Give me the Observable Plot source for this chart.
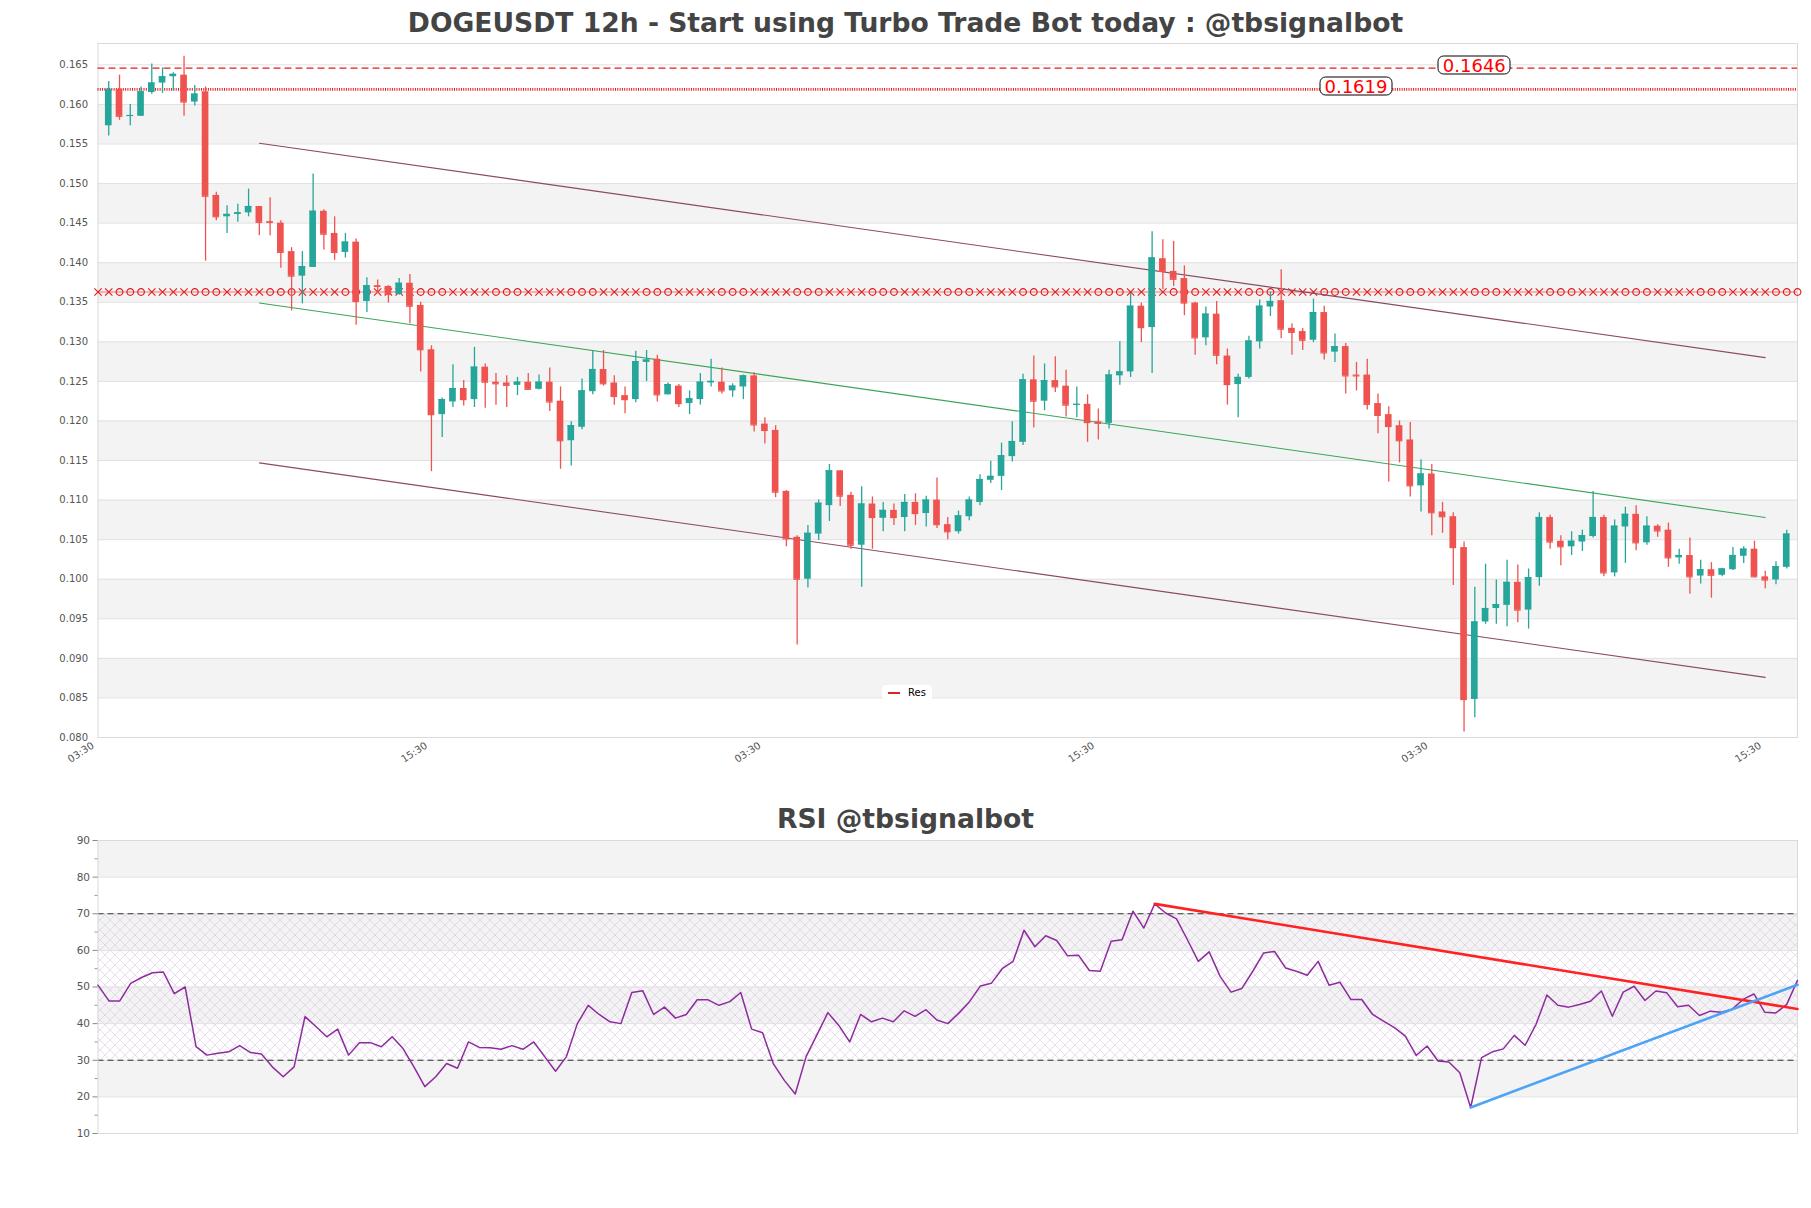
<!DOCTYPE html>
<html><head><meta charset="utf-8">
<script src="https://cdn.jsdelivr.net/npm/d3@7"></script>
<script src="https://cdn.jsdelivr.net/npm/@observablehq/plot@0.6"></script>
<style>
body{margin:0;background:#fff;font-family:"DejaVu Sans",sans-serif;}
#root{position:relative;width:1811px;height:1208px;overflow:hidden;background:#fff;}
#root svg{position:absolute;left:0;}
.title{position:absolute;left:0;width:1811px;text-align:center;font-weight:bold;color:#444;font-size:26.6px;line-height:30px;white-space:nowrap;}
.lbl{position:absolute;border:1.3px solid #000;border-radius:6px;background:#fff;color:#f00;font-size:18px;line-height:17px;padding:0 4px;transform:translate(-50%,-50%);white-space:nowrap;}
.legend{position:absolute;background:#fff;border-radius:4px;font-size:10px;color:#000;padding:2px 6px;display:flex;align-items:center;gap:8px;}
.legend span.sw{display:inline-block;width:12px;height:2px;background:#d62728;}
</style></head>
<body>
<svg width="0" height="0" style="position:absolute"><defs>
<pattern id="hatch" width="10" height="10" patternUnits="userSpaceOnUse">
<path d="M0,0L10,10M10,0L0,10" stroke="#d6c6e2" stroke-width="0.6" fill="none"/>
</pattern></defs></svg>
<div id="root"></div>
<script>
// ---------- data ----------
const open = [0.1573,0.1619,0.1585,0.1585,0.1615,0.1627,0.1635,0.1637,0.1603,0.1616,
0.1485,0.1458,0.1461,0.1463,0.1471,0.1452,0.1450,0.1414,0.1383,0.1394,
0.1465,0.1437,0.1413,0.1426,0.1351,0.1371,0.1370,0.1360,0.1374,0.1346,
0.1290,0.1208,0.1224,0.1241,0.1227,0.1268,0.1249,0.1248,0.1245,0.1249,
0.1240,0.1249,0.1225,0.1175,0.1192,0.1237,0.1265,0.1248,0.1232,0.1227,
0.1274,0.1278,0.1233,0.1244,0.1222,0.1227,0.1248,0.1249,0.1238,0.1243,
0.1257,0.1196,0.1188,0.1111,0.1053,0.1000,0.1057,0.1093,0.1137,0.1106,
0.1043,0.1095,0.1077,0.1087,0.1078,0.1097,0.1083,0.1100,0.1069,0.1060,
0.1079,0.1097,0.1125,0.1130,0.1155,0.1173,0.1252,0.1225,0.1251,0.1244,
0.1220,0.1221,0.1199,0.1197,0.1257,0.1262,0.1345,0.1318,0.1405,0.1389,
0.1380,0.1349,0.1305,0.1335,0.1282,0.1246,0.1255,0.1300,0.1344,0.1352,
0.1317,0.1313,0.1302,0.1337,0.1287,0.1294,0.1258,0.1258,0.1222,0.1208,
0.1194,0.1176,0.1118,0.1133,0.1085,0.1079,0.1040,0.0848,0.0946,0.0963,
0.0967,0.0996,0.0961,0.1002,0.1078,0.1048,0.1041,0.1047,0.1054,0.1078,
0.1008,0.1066,0.1082,0.1046,0.1067,0.1062,0.1027,0.1030,0.1004,0.1012,
0.1005,0.1012,0.1029,0.1038,0.1003,0.0999,0.1015];
const high = [0.1629,0.1637,0.1600,0.1622,0.1651,0.1646,0.1640,0.1661,0.1624,0.1622,
0.1489,0.1472,0.1474,0.1493,0.1471,0.1482,0.1453,0.1419,0.1414,0.1512,
0.1467,0.1458,0.1437,0.1430,0.1381,0.1378,0.1371,0.1380,0.1385,0.1350,
0.1295,0.1229,0.1271,0.1251,0.1293,0.1272,0.1260,0.1257,0.1255,0.1260,
0.1258,0.1267,0.1243,0.1199,0.1253,0.1289,0.1289,0.1257,0.1243,0.1288,
0.1289,0.1283,0.1248,0.1246,0.1238,0.1260,0.1278,0.1267,0.1247,0.1258,
0.1261,0.1204,0.1194,0.1112,0.1055,0.1068,0.1100,0.1145,0.1137,0.1110,
0.1117,0.1104,0.1097,0.1095,0.1107,0.1108,0.1105,0.1128,0.1078,0.1086,
0.1104,0.1132,0.1149,0.1172,0.1199,0.1259,0.1282,0.1272,0.1281,0.1264,
0.1243,0.1233,0.1215,0.1264,0.1300,0.1361,0.1349,0.1439,0.1429,0.1427,
0.1396,0.1350,0.1344,0.1351,0.1291,0.1259,0.1307,0.1353,0.1363,0.1391,
0.1323,0.1317,0.1354,0.1345,0.1310,0.1298,0.1274,0.1278,0.1234,0.1218,
0.1200,0.1198,0.1151,0.1145,0.1097,0.1084,0.1047,0.0990,0.1019,0.0999,
0.1024,0.1018,0.1013,0.1084,0.1081,0.1055,0.1060,0.1062,0.1111,0.1081,
0.1075,0.1091,0.1093,0.1079,0.1069,0.1071,0.1038,0.1052,0.1024,0.1021,
0.1014,0.1040,0.1041,0.1048,0.1010,0.1022,0.1062];
const low = [0.1560,0.1580,0.1573,0.1585,0.1613,0.1614,0.1617,0.1585,0.1598,0.1402,
0.1453,0.1437,0.1451,0.1458,0.1434,0.1434,0.1393,0.1339,0.1348,0.1394,
0.1416,0.1403,0.1406,0.1321,0.1337,0.1361,0.1349,0.1359,0.1323,0.1262,
0.1136,0.1179,0.1217,0.1219,0.1217,0.1216,0.1220,0.1217,0.1232,0.1239,
0.1239,0.1212,0.1139,0.1143,0.1189,0.1233,0.1244,0.1220,0.1209,0.1223,
0.1250,0.1224,0.1233,0.1217,0.1208,0.1220,0.1243,0.1234,0.1230,0.1227,
0.1186,0.1171,0.1103,0.1041,0.0917,0.0989,0.1049,0.1073,0.1092,0.1038,
0.0990,0.1038,0.1060,0.1068,0.1060,0.1068,0.1066,0.1064,0.1050,0.1057,
0.1074,0.1093,0.1121,0.1112,0.1148,0.1169,0.1191,0.1213,0.1236,0.1205,
0.1204,0.1173,0.1176,0.1190,0.1245,0.1255,0.1299,0.1260,0.1366,0.1370,
0.1333,0.1283,0.1295,0.1271,0.1220,0.1204,0.1253,0.1291,0.1332,0.1304,
0.1283,0.1289,0.1299,0.1277,0.1274,0.1234,0.1238,0.1214,0.1184,0.1123,
0.1147,0.1104,0.1085,0.1055,0.1058,0.0992,0.0807,0.0825,0.0943,0.0943,
0.0940,0.0945,0.0937,0.0991,0.1038,0.1017,0.1030,0.1035,0.1052,0.1003,
0.1003,0.1020,0.1036,0.1043,0.1053,0.1015,0.1019,0.0981,0.0994,0.0976,
0.1003,0.1011,0.1020,0.1002,0.0988,0.0993,0.1013];
const close = [0.1619,0.1585,0.1586,0.1616,0.1627,0.1635,0.1638,0.1603,0.1613,0.1484,
0.1458,0.1461,0.1463,0.1471,0.1451,0.1451,0.1413,0.1383,0.1395,0.1465,
0.1436,0.1413,0.1426,0.1351,0.1371,0.1370,0.1360,0.1374,0.1345,0.1290,
0.1208,0.1227,0.1241,0.1227,0.1268,0.1249,0.1247,0.1245,0.1249,0.1240,
0.1249,0.1224,0.1175,0.1194,0.1238,0.1265,0.1247,0.1231,0.1227,0.1275,
0.1277,0.1233,0.1246,0.1222,0.1228,0.1249,0.1250,0.1238,0.1244,0.1257,
0.1195,0.1188,0.1110,0.1051,0.1000,0.1058,0.1096,0.1137,0.1105,0.1043,
0.1095,0.1078,0.1087,0.1078,0.1097,0.1083,0.1100,0.1069,0.1060,0.1080,
0.1100,0.1126,0.1130,0.1156,0.1174,0.1252,0.1225,0.1251,0.1243,0.1220,
0.1221,0.1198,0.1197,0.1258,0.1262,0.1345,0.1318,0.1406,0.1389,0.1379,
0.1349,0.1305,0.1335,0.1283,0.1246,0.1255,0.1301,0.1345,0.1351,0.1316,
0.1312,0.1302,0.1337,0.1286,0.1294,0.1257,0.1257,0.1221,0.1207,0.1193,
0.1175,0.1118,0.1133,0.1084,0.1079,0.1040,0.0848,0.0946,0.0963,0.0968,
0.0996,0.0961,0.1002,0.1078,0.1047,0.1041,0.1048,0.1055,0.1078,0.1008,
0.1067,0.1082,0.1046,0.1067,0.1061,0.1027,0.1030,0.1003,0.1012,0.1005,
0.1013,0.1030,0.1038,0.1003,0.0999,0.1016,0.1057];

const rsi = [50.5,46.2,46.2,51.0,52.6,53.9,54.1,48.2,50.0,33.7,
31.4,31.9,32.3,34.0,32.1,31.7,28.2,25.5,28.2,41.9,
39.2,36.4,38.5,31.4,34.8,34.8,33.7,36.4,33.2,28.2,
22.8,25.5,29.1,27.8,35.0,33.5,33.4,33.0,34.0,33.0,
35.0,31.0,27.0,31.0,40.0,45.0,42.5,40.5,40.0,48.5,
49.0,42.5,44.5,41.5,42.5,46.5,46.5,45.0,46.0,48.5,
38.5,37.5,29.0,24.5,20.8,31.0,37.0,43.0,39.5,35.0,
42.5,40.5,41.5,40.5,43.5,42.0,43.8,41.0,40.0,42.8,
46.0,50.3,51.0,55.0,57.0,65.5,61.0,64.0,62.7,58.5,
58.7,54.5,54.3,62.5,62.9,70.7,66.1,72.7,70.2,68.6,
62.9,57.0,59.6,52.9,48.6,49.6,54.3,59.3,59.7,55.2,
54.3,53.2,57.0,50.5,51.3,46.6,46.6,42.5,40.7,38.9,
36.6,31.3,33.9,29.8,29.5,26.6,17.1,30.7,32.3,33.1,
36.8,34.1,39.8,47.8,45.0,44.5,45.2,46.1,48.9,42.0,
48.6,50.2,46.3,48.9,48.4,44.6,45.0,42.2,43.4,43.1,
43.9,46.6,48.1,43.1,42.9,45.2,51.8];

// horizontal levels
const resistanceLevels = [0.1646, 0.1619];
const supportZone = [0.1363];
// channel lines [index, price] end points
const channelUpper = [[14, 0.1551], [154, 0.1280]];
const channelMid   = [[14, 0.1349], [154, 0.1078]];
const channelLower = [[14, 0.1147], [154, 0.0876]];
// RSI trend lines
const rsiResTrend = [[97, 72.7], [156, 44.0]];
const rsiSupTrend = [[126, 17.1], [156, 50.6]];

const yTicks = d3.range(0.080, 0.1651, 0.005).map(v => +v.toFixed(3));
const xTickIdx = [-1, 30, 61, 92, 123, 154];
const xTickLabels = ["03:30", "15:30", "03:30", "15:30", "03:30", "15:30"];
const rsiTicks = [10, 20, 30, 40, 50, 60, 70, 80, 90];
const rsiMinor = [15, 25, 35, 45, 55, 65, 75, 85];
const rsiLevels = [30, 70];
const mainTitle = "DOGEUSDT 12h - Start using Turbo Trade Bot today : @tbsignalbot";
const rsiTitle = "RSI @tbsignalbot";
const legendLabel = "Res";

// ---------- build ----------
const N = close.length;
const candles = d3.range(N).map(i => ({i, o: open[i], h: high[i], l: low[i], c: close[i], up: close[i] >= open[i]}));
const GREEN = "#26a69a", RED = "#ef5350";
const X_DOMAIN = [-1, N];
const Y_DOMAIN = [0.080, 0.1677];
const BW = 0.31;
const bands = yTicks.filter((v, k) => k % 2 === 1 && k < yTicks.length - 1).map(v => [v, +(v + 0.005).toFixed(3)]);
const labelMap = new Map(xTickIdx.map((d, k) => [d, xTickLabels[k]]));
const lineData = (arr) => arr.map(([x, y]) => ({x, y}));
const markerIdx = d3.range(-1, N + 1);

const root = document.getElementById("root");

const main = Plot.plot({
  width: 1811, height: 780,
  marginTop: 43, marginBottom: 43, marginLeft: 97.5, marginRight: 14,
  style: {fontFamily: "DejaVu Sans", fontSize: "10px", color: "#555", background: "transparent", overflow: "visible"},
  x: {domain: X_DOMAIN, axis: null},
  y: {domain: Y_DOMAIN, axis: null},
  marks: [
    Plot.rect(bands, {x1: () => X_DOMAIN[0], x2: () => X_DOMAIN[1], y1: d => d[0], y2: d => d[1], fill: "#f3f3f3"}),
    Plot.ruleY(yTicks, {stroke: "#e0e0e0", strokeWidth: 1}),
    Plot.frame({stroke: "#dadada"}),
    Plot.axisY(yTicks, {tickSize: 0, tickPadding: 10, tickFormat: d3.format(".3f"), fontSize: 10, fill: "#555"}),
    Plot.axisX(xTickIdx, {tickSize: 0, tickPadding: 6, tickRotate: -33, dx: -5, dy: 1, tickFormat: d => labelMap.get(d), fontSize: 10, fill: "#555"}),
    // levels
    Plot.ruleY([resistanceLevels[0]], {stroke: "#e41a1c", strokeWidth: 1.3, strokeDasharray: "7,4"}),
    Plot.ruleY([resistanceLevels[1]], {stroke: "#e41a1c", strokeWidth: 2.6, strokeDasharray: "1,1.3"}),
    Plot.ruleY(supportZone, {stroke: "#e41a1c", strokeWidth: 0.8, strokeOpacity: 0.7}),
    Plot.dot(markerIdx, {x: d => d, y: () => supportZone[0], symbol: (d, k) => ([2, 3, 4].includes(k % 7) ? "circle" : "times"), r: 3.4, stroke: "#e41a1c", strokeWidth: 1.1, fill: "none"}),
    // channel
    Plot.line(lineData(channelUpper), {x: "x", y: "y", stroke: "#8a4a66", strokeWidth: 1.1}),
    Plot.line(lineData(channelLower), {x: "x", y: "y", stroke: "#8a4a66", strokeWidth: 1.1}),
    Plot.line(lineData(channelMid), {x: "x", y: "y", stroke: "#3aa657", strokeWidth: 1.1}),
    // candles
    Plot.ruleX(candles, {x: "i", y1: "l", y2: "h", stroke: d => d.up ? GREEN : RED, strokeWidth: 1.3}),
    Plot.rect(candles, {x1: d => d.i - BW, x2: d => d.i + BW, y1: d => Math.min(d.o, d.c), y2: d => Math.max(d.o, d.c), fill: d => d.up ? GREEN : RED}),
    Plot.ruleY(candles, {x1: d => d.i - BW, x2: d => d.i + BW, y: "c", stroke: d => d.up ? GREEN : RED, strokeWidth: 1.2})
  ]
});
main.style.top = "0px";
root.appendChild(main);

const rsiData = rsi.map((v, i) => ({i, v}));
const rsiBands = [[20, 30], [40, 50], [60, 70], [80, 90]];
const rsiPlot = Plot.plot({
  width: 1811, height: 360,
  marginTop: 40, marginBottom: 27, marginLeft: 97.5, marginRight: 14,
  style: {fontFamily: "DejaVu Sans", fontSize: "10px", color: "#555", background: "transparent", overflow: "visible"},
  x: {domain: [0, N - 1], axis: null},
  y: {domain: [10, 90], axis: null},
  marks: [
    Plot.rect(rsiBands, {x1: () => 0, x2: () => N - 1, y1: d => d[0], y2: d => d[1], fill: "#f3f3f3"}),
    Plot.rect([rsiLevels], {x1: () => 0, x2: () => N - 1, y1: d => d[0], y2: d => d[1], fill: "url(#hatch)"}),
    Plot.ruleY(rsiTicks, {stroke: "#e0e0e0"}),
    Plot.ruleY(rsiLevels, {stroke: "#333", strokeWidth: 1, strokeDasharray: "6,4"}),
    Plot.frame({stroke: "#dadada"}),
    Plot.axisY(rsiTicks, {tickSize: 5, tickPadding: 3, stroke: "#888", fontSize: 10.5, fill: "#555"}),
    Plot.axisY(rsiMinor, {tickSize: 3, tickFormat: () => "", stroke: "#999"}),
    Plot.line(rsiData, {x: "i", y: "v", stroke: "#8e2b9e", strokeWidth: 1.5}),
    Plot.line(lineData(rsiResTrend), {x: "x", y: "y", stroke: "#ff2222", strokeWidth: 2.6}),
    Plot.line(lineData(rsiSupTrend), {x: "x", y: "y", stroke: "#4da3f5", strokeWidth: 2.6})
  ]
});
rsiPlot.style.top = "800px";
root.appendChild(rsiPlot);

// titles
const t1 = document.createElement("div"); t1.className = "title"; t1.style.top = "8px"; t1.textContent = mainTitle; root.appendChild(t1);
const t2 = document.createElement("div"); t2.className = "title"; t2.style.top = "804px"; t2.textContent = rsiTitle; root.appendChild(t2);

// level labels placed through the plot's scales
const sx = main.scale("x"), sy = main.scale("y");
[[resistanceLevels[0], 127], [resistanceLevels[1], 116]].forEach(([v, at]) => {
  const d = document.createElement("div"); d.className = "lbl";
  d.style.left = sx.apply(at) + "px"; d.style.top = (sy.apply(v) - 3) + "px";
  d.textContent = v.toFixed(4); root.appendChild(d);
});
// legend
const lg = document.createElement("div"); lg.className = "legend";
lg.style.left = "882px"; lg.style.top = "685px";
lg.innerHTML = '<span class="sw"></span><span>' + legendLabel + '</span>';
root.appendChild(lg);
</script>
</body></html>
